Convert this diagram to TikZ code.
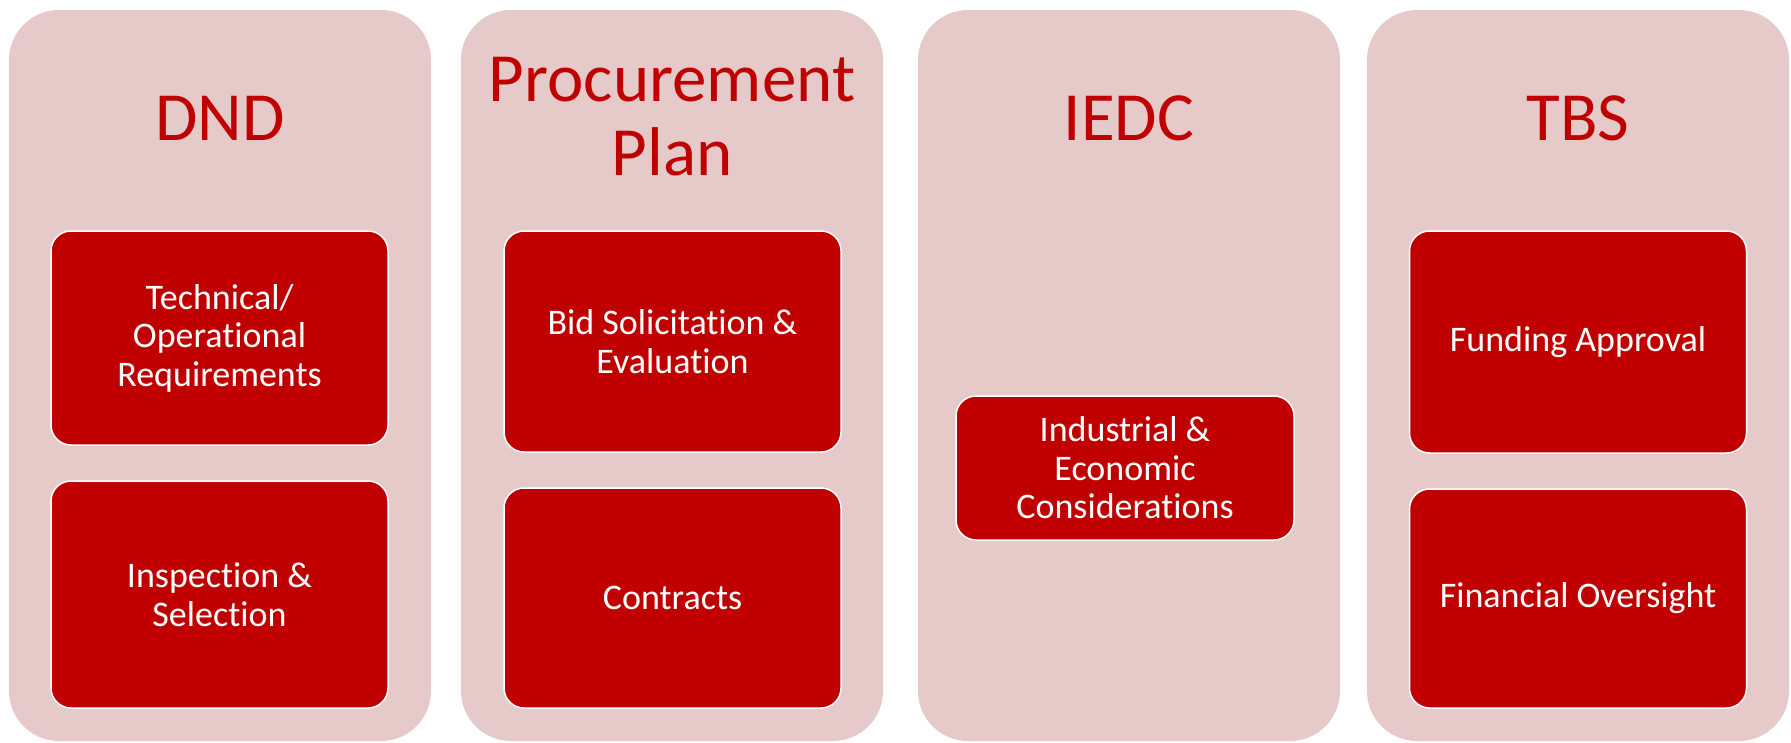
\documentclass[tikz,border=0pt]{standalone}
\usepackage{fontspec}
\setmainfont[Ligatures=NoCommon]{Carlito}
\usepackage{tikz}
\definecolor{pale}{RGB}{230,202,202}
\definecolor{darkred}{RGB}{192,0,0}
\newcommand{\colwd}{422pt}
\newcommand{\itemwd}{337pt}

\begin{document}
\begin{tikzpicture}[x=1pt,y=-1pt,
    col/.style={fill=pale, rounded corners=50pt, minimum width=\colwd, minimum height=731pt, inner sep=0pt},
    head/.style={text=darkred, font=\fontsize{69}{74}\selectfont, align=center},
    item/.style={fill=darkred, draw=white, line width=1.5pt, rounded corners=20pt, text=white,
        font=\fontsize{36}{38.5}\selectfont, align=center, minimum width=\itemwd, inner sep=0pt}]
    \useasboundingbox (0,0) rectangle (1791,742);
    % columns
        \node (dnd) at (220,375.5) [col] {};
        \node (proc) at (672,375.5) [col] {};
        \node (iedc) at (1129,375.5) [col] {};
        \node (tbs) at (1578,375.5) [col] {};
    % headings
        \node (dndhead) at (220,118) [head] {DND};
        \node (prochead) at (672,117) [head] {Procurement\\Plan};
        \node (iedchead) at (1129,118) [head] {IEDC};
        \node (tbshead) at (1578,118) [head] {TBS};
    % DND
        \node (req) at (219.5,338) [item, minimum height=214pt] {Technical/\\Operational\\Requirements};
        \node (insp) at (219.5,594.5) [item, minimum height=227pt] {Inspection \&\\Selection};
    % Procurement Plan
        \node (bid) at (672.5,341.5) [item, minimum height=221pt] {Bid Solicitation \&\\Evaluation};
        \node (contr) at (672.5,598) [item, minimum height=220pt] {Contracts};
    % IEDC
        \node (indus) at (1125,468) [item, minimum width=338pt, minimum height=144pt] {Industrial \&\\Economic\\Considerations};
    % TBS
        \node (fund) at (1578,342) [item, minimum height=222pt] {Funding Approval};
        \node (fin) at (1578,598.5) [item, minimum height=219pt] {Financial Oversight};
\end{tikzpicture}
\end{document}
